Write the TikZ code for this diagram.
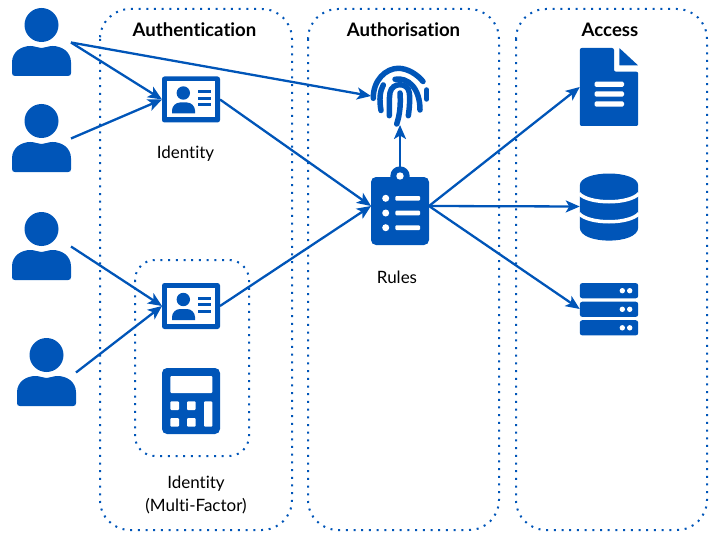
\documentclass[tikz,border=0pt]{standalone}
\usepackage{fontspec}
\setmainfont[Ligatures=NoCommon]{Lato}
\usetikzlibrary{arrows.meta,positioning}
\definecolor{iconblue}{HTML}{0055B8}
\tikzset{
  panel/.style={draw=iconblue, line width=2pt, rounded corners=#1, dash pattern=on 2pt off 5.7pt},
  link/.style={draw=iconblue, line width=2.3pt, -{Stealth[length=14pt,width=12pt,inset=3.5pt]}},
  title/.style={font=\fontsize{18.6}{22}\selectfont\bfseries, text=black},
  caption/.style={font=\fontsize{17}{23}\selectfont, text=black, align=center},
  icon/.style args={#1x#2}{minimum width=#1pt, minimum height=#2pt, inner sep=0pt, outer sep=0pt},
  person/.pic={
    \fill[iconblue] (0,-17.5) circle (17);
    \fill[iconblue] (-29.5,30.5) -- (-29.5,20) .. controls (-29.5,9) and (-20,3.5) .. (-11,3.5)
      .. controls (-6,3.5) and (-4,5.5) .. (0,5.5) .. controls (4,5.5) and (6,3.5) .. (11,3.5)
      .. controls (20,3.5) and (29.5,9) .. (29.5,20) -- (29.5,30.5)
      .. controls (29.5,32.5) and (28.5,33.5) .. (26.5,33.5) -- (-26.5,33.5)
      .. controls (-28.5,33.5) and (-29.5,32.5) .. (-29.5,30.5) -- cycle;
  },
  idcard/.pic={
    \fill[iconblue, rounded corners=2.5pt] (-29,-23) rectangle (29,23);
    \fill[white] (-24,-18) rectangle (24,18);
    \fill[iconblue] (-7.7,-6.5) circle (6.7);
    \fill[iconblue] (-19,14) -- (-19,11) .. controls (-19,6.5) and (-15,3) .. (-11,3) -- (-4,3)
      .. controls (0,3) and (4,6.5) .. (4,11) -- (4,14) -- cycle;
    \foreach \y in {-8,-1.2,5.2} \fill[iconblue] (7,\y-1.5) rectangle (20.3,\y+1.5);
  },
  keypad/.pic={
    \fill[iconblue, rounded corners=5pt] (-29,-33) rectangle (29,33);
    \fill[white, rounded corners=1pt] (-20.7,-25) rectangle (21.3,-8);
    \foreach \x in {-20.7,-4} \foreach \y in {0.3,17}
      \fill[white, rounded corners=1pt] (\x,\y) rectangle (\x+8.7,\y+8.7);
    \fill[white, rounded corners=1pt] (13,0.3) rectangle (21.3,25.7);
  },
  print/.pic={
    \begin{scope}[draw=iconblue, line width=5.5pt, line cap=round]
      \draw (-26.7,2.3) .. controls (-27,-16) and (-14,-27.7) .. (-1.7,-27.7) .. controls (7,-27.7) and (17,-22) .. (23,-14.5);
      \draw (26.7,-6) -- (26.7,3);
      \draw (-19,14.5) .. controls (-21,3) and (-20,-5) .. (-16.7,-11);
      \draw (-5,-16.7) .. controls (8,-19) and (20,-8) .. (20,14);
      \draw (-10.7,19.7) .. controls (-10.7,10) and (-11,3) .. (-10,-3.3) .. controls (-8,-14) and (8,-14) .. (9.3,-3.3) .. controls (10,3) and (9.5,12) .. (8.3,19.7);
      \draw (-3.3,28) .. controls (0,18) and (0.8,8) .. (0,-3);
    \end{scope}
  },
  clipboard/.pic={
    \fill[iconblue, rounded corners=5pt] (-29,-29) rectangle (29,39);
    \fill[iconblue] (0,-30) circle (9.7);
    \fill[white] (0,-30) circle (3.7);
    \foreach \y in {-7.7,7,21.7} {
      \fill[white] (-14.3,\y) circle (3.5);
      \fill[white, rounded corners=1pt] (-4.7,\y-2.3) rectangle (20,\y+2.3);
    }
  },
  paper/.pic={
    \fill[iconblue, rounded corners=2pt] (-29.2,-39) -- (5,-39) -- (5,-15.3) -- (29.2,-15.3) -- (29.2,39) -- (-29.2,39) -- cycle;
    \fill[iconblue, rounded corners=0.5pt] (10.3,-39) -- (29.2,-21.5) -- (10.3,-21.5) -- cycle;
    \foreach \y in {-2.7,7,17} \fill[white, rounded corners=1.5pt] (-14.5,\y-2.6) rectangle (15,\y+2.6);
  },
  database/.pic={
    \fill[iconblue] (-29.2,-21) .. controls (-29.2,-37) and (29.2,-37) .. (29.2,-21) -- (29.2,21)
      .. controls (29.2,38.5) and (-29.2,38.5) .. (-29.2,21) -- cycle;
    \draw[white, line width=3.5pt] (-30,-13) .. controls (-20,-2) and (20,-2) .. (30,-13);
    \draw[white, line width=3.5pt] (-30,7) .. controls (-20,18) and (20,18) .. (30,7);
  },
  rack/.pic={
    \foreach \y in {-18.3,0.3,18.8} {
      \fill[iconblue, rounded corners=2.5pt] (-29.2,\y-7.6) rectangle (29.2,\y+7.6);
      \fill[white] (13.3,\y) circle (2.7);
      \fill[white] (20.7,\y) circle (2.7);
    }
  }
}
\begin{document}
\begin{tikzpicture}[x=1pt,y=-1pt]
  \useasboundingbox (0,0) rectangle (719,540);
  % panels
  \draw[panel=30pt] (100,9) rectangle (292,530);
  \draw[panel=30pt] (308,9) rectangle (499,530);
  \draw[panel=30pt] (516,9) rectangle (707,530);
  \draw[panel=20pt] (135,260) rectangle (249,456);
  \node[title] (T1) at (194.5,30) {Authentication};
  \node[title] (T2) at (403.5,30) {Authorisation};
  \node[title] (T3) at (610,30) {Access};
  % users
  \foreach \n/\x/\y in {U1/41.5/42.5,U2/41.5/138.5,U3/41.5/246.5,U4/46.5/372.5} {
    \node[icon=59x67] (\n) at (\x,\y) {};
    \pic at (\n) {person};
  }
  % icons
  \node[icon=58x46] (C1) at (191,99.5) {};
  \pic at (C1) {idcard};
  \node[icon=58x46] (C2) at (191,306) {};
  \pic at (C2) {idcard};
  \node[icon=58x66] (K1) at (191,401) {};
  \pic at (K1) {keypad};
  \node[icon=58x58] (F1) at (400,96) {};
  \pic at (F1) {print};
  \node[icon=58x78] (R1) at (400,206) {};
  \pic at (R1) {clipboard};
  \node[icon=58.5x78] (D1) at (609,87) {};
  \pic at (D1) {paper};
  \node[icon=58.5x67] (D2) at (609,206.5) {};
  \pic at (D2) {database};
  \node[icon=58.5x52] (D3) at (609,309) {};
  \pic at (D3) {rack};
  % captions
  \node[caption] (L1) at (185.5,154) {Identity};
  \node[caption] (L2) at (196,494.5) {Identity\\(Multi-Factor)};
  \node[caption] (L3) at (397,277.5) {Rules};
  % links
  \draw[link] (U1.east) -- (C1.west);
  \draw[link] (U1.east) -- (F1.west);
  \draw[link] (U2.east) -- (C1.west);
  \draw[link] (U3.east) -- (C2.west);
  \draw[link] (U4.east) -- (C2.west);
  \draw[link] (C1.east) -- (R1.west);
  \draw[link] (C2.east) -- (R1.west);
  \draw[link] (R1.north) -- (F1.south);
  \draw[link] (R1.east) -- (D1.west);
  \draw[link] (R1.east) -- (D2.west);
  \draw[link] (R1.east) -- (D3.west);
\end{tikzpicture}
\end{document}
